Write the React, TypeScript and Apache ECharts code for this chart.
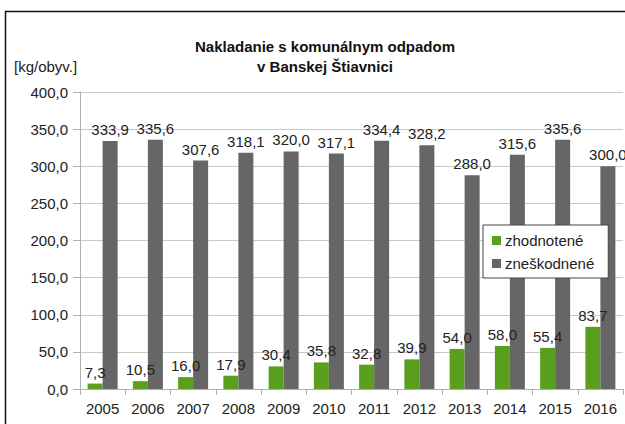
import React, { useEffect, useRef } from "react";
import * as echarts from "echarts";

const years = ["2005", "2006", "2007", "2008", "2009", "2010", "2011", "2012", "2013", "2014", "2015", "2016"];
const zhodnotene = [7.3, 10.5, 16.0, 17.9, 30.4, 35.8, 32.8, 39.9, 54.0, 58.0, 55.4, 83.7];
const zneskodnene = [333.9, 335.6, 307.6, 318.1, 320.0, 317.1, 334.4, 328.2, 288.0, 315.6, 335.6, 300.0];
const seriesNames = ["zhodnotené", "zneškodnené"];
const titleLines = ["Nakladanie s komunálnym odpadom", "v Banskej Štiavnici"];
const unitLabel = "[kg/obyv.]";

const FONT = "'Liberation Sans', Arial, sans-serif";
const fmt = (v: number) => v.toFixed(1).replace(".", ",");

export default function App() {
  const ref = useRef<HTMLDivElement>(null);
  useEffect(() => {
    if (!ref.current) return;
    const chart = echarts.init(ref.current, undefined, { renderer: "svg" });
    const labelStyle = {
      show: true,
      position: "top" as const,
      distance: 4,
      color: "#222",
      fontSize: 15,
      fontFamily: FONT,
      formatter: (p: any) => fmt(p.value),
    };
    chart.setOption({
      animation: false,
      backgroundColor: "#fff",
      title: {
        text: titleLines.join("\n"),
        left: 320,
        top: 31,
        textAlign: "center",
        textStyle: { fontFamily: FONT, fontSize: 15, fontWeight: "bold", color: "#111", lineHeight: 20 },
      },
      legend: {
        orient: "vertical",
        left: 483,
        top: 225,
        padding: [8, 14, 7, 9],
        itemGap: 8,
        itemWidth: 9,
        itemHeight: 9,
        icon: "rect",
        borderColor: "#444",
        borderWidth: 1,
        backgroundColor: "#fff",
        textStyle: { fontFamily: FONT, fontSize: 15, color: "#222", padding: [0, 0, 0, -1] },
        data: seriesNames,
      },
      grid: { left: 80, right: 2, top: 92, bottom: 35 },
      graphic: [
        {
          type: "text",
          left: 14,
          top: 59,
          style: { text: unitLabel, fontFamily: FONT, fontSize: 15, fill: "#222" },
        },
        {
          type: "rect",
          shape: { x: 5.5, y: 11.5, width: 800, height: 600 },
          style: { fill: "none", stroke: "#111", lineWidth: 1.5 },
          silent: true,
        },
      ],
      xAxis: {
        type: "category",
        data: years,
        axisLine: { lineStyle: { color: "#b0b0b0" } },
        axisTick: { show: true, length: 6, lineStyle: { color: "#b0b0b0" } },
        axisLabel: { fontFamily: FONT, fontSize: 15, color: "#222", margin: 12 },
      },
      yAxis: {
        type: "value",
        min: 0,
        max: 400,
        interval: 50,
        axisLine: { show: true, lineStyle: { color: "#b0b0b0" } },
        axisTick: { show: true, length: 7, lineStyle: { color: "#b0b0b0" } },
        splitLine: { lineStyle: { color: "#c8c8c8" } },
        axisLabel: { fontFamily: FONT, fontSize: 15, color: "#222", margin: 12, formatter: (v: number) => fmt(v) },
      },
      series: [
        {
          name: seriesNames[0],
          type: "bar",
          data: zhodnotene,
          barWidth: 15,
          barGap: "0%",
          itemStyle: { color: "#5a9e1e" },
          label: labelStyle,
        },
        {
          name: seriesNames[1],
          type: "bar",
          data: zneskodnene,
          barWidth: 15,
          barGap: "0%",
          itemStyle: { color: "#666666" },
          label: labelStyle,
        },
      ],
    });
    return () => chart.dispose();
  }, []);
  return <div ref={ref} style={{ position: "fixed", left: 0, top: 0, width: 625, height: 424 }} />;
}
